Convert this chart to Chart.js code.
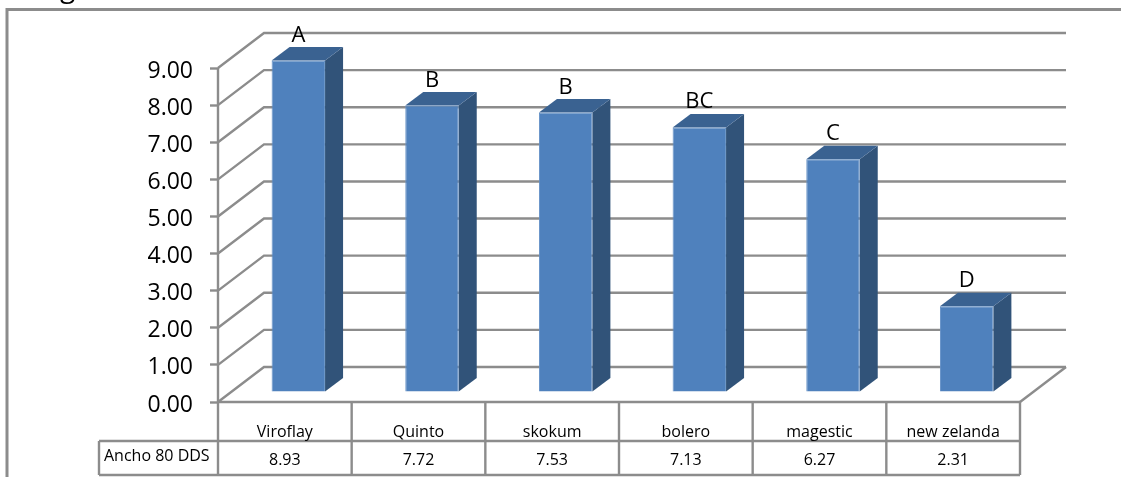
<!DOCTYPE html>
<html>
<head>
<meta charset="utf-8">
<title>Ancho 80 DDS</title>
<script src="https://cdn.jsdelivr.net/npm/chart.js@4"></script>
<style>
    html, body { margin: 0; padding: 0; background: #fff; overflow: hidden; }
    canvas { display: block; }
</style>
</head>
<body>
<canvas id="anchoChart" width="1121" height="477"></canvas>
<script>
var categories = ['Viroflay', 'Quinto', 'skokum', 'bolero', 'magestic', 'new zelanda'];
var anchoValues = [8.93, 7.72, 7.53, 7.13, 6.27, 2.31];
var valueLetters = ['A', 'B', 'B', 'BC', 'C', 'D'];
var seriesName = 'Ancho 80 DDS';
var yTicks = [0, 1, 2, 3, 4, 5, 6, 7, 8, 9];

var FONT = '"Open Sans", sans-serif';
var LINE = '#8C8C8C';

// box perspective: the walls recede by wallX/wallY, bars sit part way in
var wallX = 46, wallY = 35;
var barX = 13.5, barY = 10;
var sideX = 18, sideY = 13.5;

function line(ctx, x1, y1, x2, y2) {
    ctx.beginPath();
    ctx.moveTo(x1, y1);
    ctx.lineTo(x2, y2);
    ctx.stroke();
}

var box3d = {
    id: 'box3d',

    // frame, walls and the table under the plot
    beforeDatasetsDraw: function (chart) {
        var ctx = chart.ctx;
        var area = chart.chartArea;
        var y = chart.scales.y;
        var x = chart.scales.x;

        ctx.save();
        ctx.strokeStyle = LINE;

        // outer frame runs off the right and bottom edges
        ctx.lineWidth = 3;
        ctx.beginPath();
        ctx.moveTo(7, 477);
        ctx.lineTo(7, 9.5);
        ctx.lineTo(1121, 9.5);
        ctx.stroke();

        ctx.lineWidth = 2.4;
        yTicks.forEach(function (t) {
            var py = y.getPixelForValue(t);
            ctx.beginPath();
            ctx.moveTo(area.left, py);
            ctx.lineTo(area.left + wallX, py - wallY);
            ctx.lineTo(area.right + wallX, py - wallY);
            ctx.stroke();
        });
        line(ctx, area.right, area.bottom, area.right + wallX, area.bottom - wallY);
        line(ctx, area.left, area.top, area.left, area.bottom);
        line(ctx, area.left, area.bottom, area.right, area.bottom);

        // table rows
        var rowA = area.bottom + 39;
        var rowB = 475;
        var cellW = (area.right - area.left) / categories.length;
        line(ctx, 99, rowA, area.right, rowA);
        line(ctx, 99, rowB, area.right, rowB);
        line(ctx, 99, rowA, 99, rowB);
        for (var i = 0; i <= categories.length; i++) {
            var cx = area.left + cellW * i;
            line(ctx, cx, area.bottom, cx, rowB);
        }

        ctx.fillStyle = '#000';
        ctx.textAlign = 'center';
        ctx.textBaseline = 'alphabetic';
        ctx.font = '16px ' + FONT;
        categories.forEach(function (name, i) {
            var px = x.getPixelForValue(i);
            ctx.fillText(name, px, rowA - 4);
            ctx.fillText(anchoValues[i].toFixed(2), px, rowB - 10);
        });
        ctx.textAlign = 'left';
        ctx.fillText(seriesName, 104, rowB - 14);

        // tail of the title, cut off by the top edge
        ctx.font = '28px ' + FONT;
        ctx.fillText('g', 60, -3);
        ctx.restore();

        // side and top faces of each bar, from the bars' own pixels
        var bars = chart.getDatasetMeta(0).data;
        ctx.save();
        ctx.translate(barX, -barY);
        bars.forEach(function (bar) {
            var left = bar.x - bar.width / 2;
            var right = bar.x + bar.width / 2;
            ctx.fillStyle = '#315379';
            ctx.beginPath();
            ctx.moveTo(right, bar.y);
            ctx.lineTo(right + sideX, bar.y - sideY);
            ctx.lineTo(right + sideX, bar.base - sideY);
            ctx.lineTo(right, bar.base);
            ctx.closePath();
            ctx.fill();
            ctx.fillStyle = '#3A6291';
            ctx.beginPath();
            ctx.moveTo(left, bar.y);
            ctx.lineTo(left + sideX, bar.y - sideY);
            ctx.lineTo(right + sideX, bar.y - sideY);
            ctx.lineTo(right, bar.y);
            ctx.closePath();
            ctx.fill();
        });
        ctx.restore();
    },

    beforeDatasetDraw: function (chart) {
        chart.ctx.save();
        chart.ctx.translate(barX, -barY);
    },

    afterDatasetDraw: function (chart) {
        chart.ctx.restore();
    },

    // significance letters over the bars
    afterDatasetsDraw: function (chart) {
        var ctx = chart.ctx;
        var bars = chart.getDatasetMeta(0).data;
        ctx.save();
        ctx.fillStyle = '#000';
        ctx.textAlign = 'center';
        ctx.textBaseline = 'alphabetic';
        ctx.font = '22px ' + FONT;
        bars.forEach(function (bar, i) {
            ctx.fillText(valueLetters[i], bar.x + barX, bar.y - barY - sideY - 5.5);
        });
        ctx.restore();
    }
};

var ctx = document.getElementById('anchoChart');
var anchoChart = new Chart(ctx, {
    type: 'bar',
    plugins: [box3d],
    data: {
        labels: categories,
        datasets: [{
            label: seriesName,
            data: anchoValues,
            backgroundColor: '#4F81BD',
            borderColor: '#6591C6',
            borderWidth: 1,
            categoryPercentage: 1,
            barPercentage: 0.4
        }]
    },
    options: {
        responsive: false,
        animation: false,
        layout: { padding: { top: 68, right: 101, bottom: 0, left: 0 } },
        plugins: {
            legend: { display: false },
            title: { display: false },
            tooltip: { enabled: false }
        },
        scales: {
            x: {
                grid: { display: false },
                border: { display: false },
                ticks: { display: false },
                afterFit: function (scale) { scale.height = 75; }
            },
            y: {
                min: 0,
                max: 9,
                afterFit: function (scale) { scale.width = 218; },
                grid: {
                    drawOnChartArea: false,
                    drawTicks: true,
                    tickLength: 8,
                    tickWidth: 2.4,
                    tickColor: LINE
                },
                border: { display: false },
                ticks: {
                    stepSize: 1,
                    padding: 17,
                    labelOffset: 3,
                    color: '#000',
                    font: { family: FONT, size: 23 },
                    callback: function (v) { return Number(v).toFixed(2); }
                }
            }
        }
    }
});
</script>
</body>
</html>
